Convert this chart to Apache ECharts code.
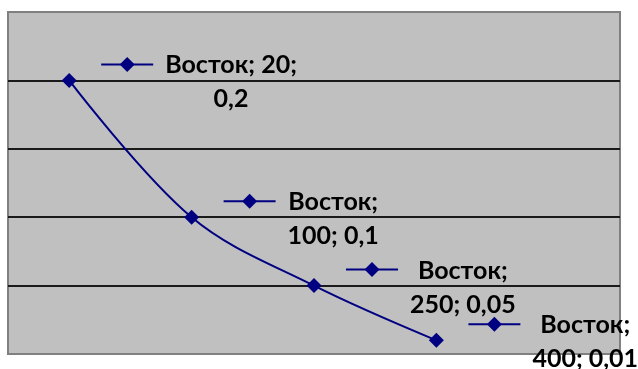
<!DOCTYPE html>
<html>
<head>
<meta charset="utf-8">
<script src="https://cdn.jsdelivr.net/npm/echarts@6/dist/echarts.min.js"></script>
<style>
  html, body { margin: 0; padding: 0; background: #ffffff; }
  #chart { width: 638px; height: 369px; }
</style>
</head>
<body>
<div id="chart"></div>
<script>
// Series data
const seriesName = 'Восток';
const categories = ['20', '100', '250', '400'];
const values = [0.2, 0.1, 0.05, 0.01];

// Value axis range
const yMin = 0;
const yMax = 0.25;
const yStep = 0.05;

const NAVY = '#000080';
const LABEL_FONT = 'bold 25px Lato, "Noto Sans", sans-serif';
const WRAP_WIDTH = 140;

const measureCtx = document.createElement('canvas').getContext('2d');
measureCtx.font = LABEL_FONT;
function textWidth(s) { return measureCtx.measureText(s).width; }

function fmt(v) { return String(v).replace('.', ','); }

// Greedy word wrap of "name; category; value"
function wrapLabel(text) {
  const words = text.split(' ');
  const lines = [];
  let cur = '';
  for (const w of words) {
    const cand = cur ? cur + ' ' + w : w;
    if (cur && textWidth(cand) > WRAP_WIDTH) {
      lines.push(cur);
      cur = w;
    } else {
      cur = cand;
    }
  }
  if (cur) lines.push(cur);
  return lines;
}

const chart = echarts.init(document.getElementById('chart'));

const option = {
  animation: false,
  grid: {
    left: 8, right: 18, top: 12, bottom: 15,
    show: true,
    backgroundColor: '#c0c0c0',
    borderColor: '#808080',
    borderWidth: 2
  },
  xAxis: {
    type: 'category',
    data: categories.concat(['']),
    boundaryGap: true,
    axisLine: { show: false },
    axisTick: { show: false },
    axisLabel: { show: false },
    splitLine: { show: false }
  },
  yAxis: {
    type: 'value',
    min: yMin, max: yMax, interval: yStep,
    axisLine: { show: false },
    axisTick: { show: false },
    axisLabel: { show: false },
    splitLine: {
      show: true,
      lineStyle: { color: ['transparent', '#1a1a1a', '#1a1a1a', '#1a1a1a', '#1a1a1a', 'transparent'], width: 2 }
    }
  },
  series: [
    {
      name: seriesName,
      type: 'line',
      data: values,
      smooth: 0.35,
      symbol: 'diamond',
      symbolSize: 15,
      lineStyle: { color: NAVY, width: 2 },
      itemStyle: { color: NAVY },
      z: 2
    },
    {
      // data labels with legend key, placed to the right of each point
      type: 'custom',
      data: values.map((v, i) => [i, v]),
      clip: false,
      silent: true,
      z: 3,
      renderItem: function (params, api) {
        const i = params.dataIndex;
        const v = api.value(1);
        const pt = api.coord([api.value(0), v]);
        const x = pt[0], y = pt[1];
        const keyY = y - 16;
        const keyX0 = x + 32, keyX1 = x + 84, keyC = x + 58;
        const lines = wrapLabel(seriesName + '; ' + categories[i] + '; ' + fmt(v) );
        const maxW = Math.max.apply(null, lines.map(textWidth));
        const blockCx = x + 96 + maxW / 2;
        const children = [
          {
            type: 'line',
            shape: { x1: keyX0, y1: keyY, x2: keyX1, y2: keyY },
            style: { stroke: NAVY, lineWidth: 2 }
          },
          {
            type: 'polygon',
            shape: { points: [[keyC, keyY - 7.5], [keyC + 7.5, keyY], [keyC, keyY + 7.5], [keyC - 7.5, keyY]] },
            style: { fill: NAVY }
          }
        ];
        lines.forEach(function (ln, k) {
          children.push({
            type: 'text',
            style: {
              text: ln,
              x: blockCx,
              y: keyY + 1 + k * 34,
              align: 'center',
              verticalAlign: 'middle',
              font: LABEL_FONT,
              fill: '#000'
            }
          });
        });
        return { type: 'group', children: children };
      }
    }
  ]
};

chart.setOption(option);
</script>
</body>
</html>
